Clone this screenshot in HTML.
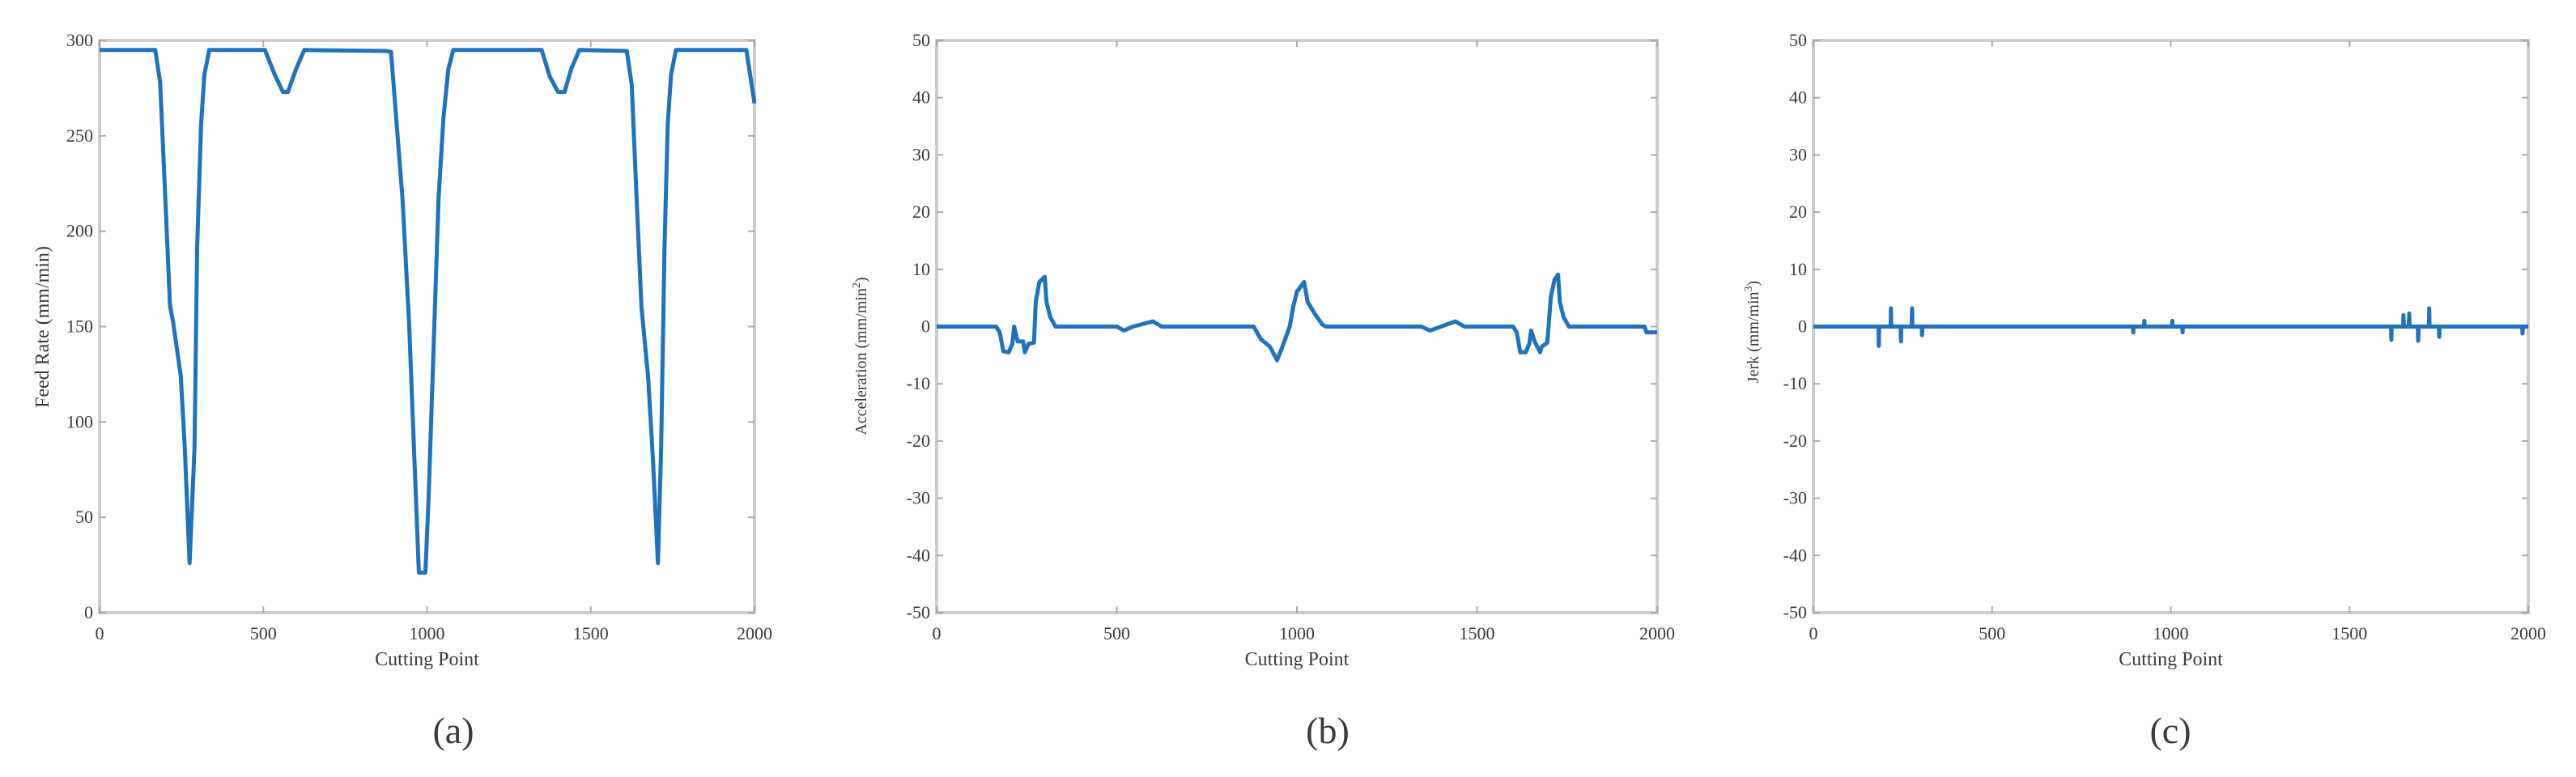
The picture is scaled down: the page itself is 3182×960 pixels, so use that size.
<!DOCTYPE html>
<html><head><meta charset="utf-8"><style>
html,body{margin:0;padding:0;background:#fff;}
svg{display:block;}
text{font-family:"Liberation Serif",serif;fill:#3a3a3a;}
</style></head><body>
<svg id="fig" width="3182" height="960" viewBox="0 0 3182 960"></svg>
<script>
// ---- Panel (a): feed rate ----
const feedX = [0,170,185,200,215,225,248,260,275,290,298,310,320,335,505,535,560,575,600,625,875,890,905,925,945,960,975,995,1005,1020,1035,1050,1065,1080,1350,1375,1400,1420,1440,1465,1610,1625,1640,1655,1675,1690,1705,1715,1725,1735,1745,1760,1975,2000];
const feedY = [295,295,278,220,161,152,124,87,26,87,191,256,282,295,295,282,273,273,285,295,294.5,294,261,217,152,87,21,21,61,139,217,259,285,295,295,281,273,273,285,295,294.5,277,217,160,124,80,26,87,191,256,282,295,295,267];
const feedTicksY = [0,50,100,150,200,250,300];
// ---- Panel (b): acceleration ----
const accX = [0,165,175,185,200,210,215,225,240,245,255,270,275,285,300,305,315,330,500,520,545,600,625,880,900,925,945,960,980,990,1000,1020,1030,1050,1070,1080,1345,1370,1400,1440,1465,1600,1610,1620,1635,1645,1650,1660,1675,1680,1695,1705,1715,1725,1730,1740,1755,1965,1970,2000];
const accY = [0,0,-1,-4.3,-4.5,-3,0,-2.6,-2.6,-4.5,-3,-2.8,4.3,7.8,8.7,4.3,1.7,0,0,-0.7,0,0.9,0,0,-2.2,-3.5,-5.9,-3.5,0,3.5,6.1,7.8,4.3,2.2,0.4,0,0,-0.7,0,0.9,0,0,-1,-4.5,-4.5,-3,-0.7,-2.6,-4.5,-3.5,-2.8,5.2,8.2,9.1,4.3,1.7,0,0,-1,-1];
// ---- Panel (c): jerk spikes ----
const jerkSpikeX = [183,217,245,276,304,895,926,1004,1033,1617,1651,1667,1692,1723,1751,1984];
const jerkSpikeV = [-3.4,3.2,-2.6,3.2,-1.5,-1,1,1,-1,-2.3,2,2.3,-2.5,3.2,-1.8,-1.2];
const pmTicksY = [-50,-40,-30,-20,-10,0,10,20,30,40,50];
const xTicks = [0,500,1000,1500,2000];

const NS = "http://www.w3.org/2000/svg";
const svg = document.getElementById('fig');
function mk(tag, attrs, parent){const e=document.createElementNS(NS,tag);for(const k in attrs)e.setAttribute(k,attrs[k]);(parent||svg).appendChild(e);return e;}

function panel(cfg){
  const g = mk('g',{});
  
  
  const L=cfg.l,R=cfg.r,T=50,B=757;
  const sx = v => L + (v-0)/2000*(R-L);
  const sy = v => B - (v-cfg.ymin)/(cfg.ymax-cfg.ymin)*(B-T);
  // frame
  const fr = mk('rect',{x:L,y:T,width:R-L,height:B-T,fill:'none',stroke:'#cccccc','stroke-width':4},g);
  
  
  // x ticks
  xTicks.forEach(t=>{
    mk('line',{x1:sx(t),x2:sx(t),y1:B,y2:B-8,stroke:'#aaa','stroke-width':2},g);
    mk('line',{x1:sx(t),x2:sx(t),y1:T,y2:T+8,stroke:'#aaa','stroke-width':2},g);
    const tx = mk('text',{x:sx(t),y:790,'font-size':22,'text-anchor':'middle'},g);
    tx.textContent=t;
    
    
  });
  cfg.yticks.forEach(t=>{
    mk('line',{x1:L,x2:L+8,y1:sy(t),y2:sy(t),stroke:'#aaa','stroke-width':2},g);
    mk('line',{x1:R,x2:R-8,y1:sy(t),y2:sy(t),stroke:'#aaa','stroke-width':2},g);
    const ty = mk('text',{x:L-8,y:sy(t)+7,'font-size':22,'text-anchor':'end'},g);
    ty.textContent=t;
    
    
  });
  // series
  const d = cfg.xs.map((x,i)=>(i?'L':'M')+sx(x).toFixed(1)+','+sy(cfg.ys[i]).toFixed(1)).join('');
  const p = mk('path',{d:d,fill:'none',stroke:'#1f72bd','stroke-width':5,'stroke-linejoin':'round'},g);
  
  
  // labels
  const xl = mk('text',{x:(L+R)/2,y:822,'font-size':24,'text-anchor':'middle'},g);
  xl.textContent='Cutting Point';
  
  
  const yl = mk('text',{x:0,y:0,'font-size':cfg.ylfs,'text-anchor':'middle',transform:'translate('+cfg.ylx+','+cfg.yly+') rotate(-90)'},g);
  yl.innerHTML=cfg.ylabel;
  
  
  const cap = mk('text',{x:cfg.capx,y:918,'font-size':46,'text-anchor':'middle',fill:'#111'},g);
  cap.textContent=cfg.cap;
  
  
}

// build jerk polyline from spike arrays
const jerkX=[0], jerkY=[0];
jerkSpikeX.forEach((x,i)=>{jerkX.push(x-1,x,x+1);jerkY.push(0,jerkSpikeV[i],0);});
jerkX.push(2000); jerkY.push(0);

panel({name:'feed-rate-chart',series:'feed-rate-line',l:123,r:932,ymin:0,ymax:300,yticks:feedTicksY,xs:feedX,ys:feedY,ylabel:'Feed Rate (mm/min)',ylx:60,yly:404,ylfs:24,capx:560,cap:'(a)'});
panel({name:'acceleration-chart',series:'acceleration-line',l:1157,r:2047,ymin:-50,ymax:50,yticks:pmTicksY,xs:accX,ys:accY,ylabel:'Acceleration (mm/min<tspan font-size="14" dy="-8">2</tspan><tspan dy="8">)</tspan>',ylx:1070,yly:440,ylfs:20,capx:1640,cap:'(b)'});
panel({name:'jerk-chart',series:'jerk-line',l:2240,r:3123,ymin:-50,ymax:50,yticks:pmTicksY,xs:jerkX,ys:jerkY,ylabel:'Jerk (mm/min<tspan font-size="14" dy="-8">3</tspan><tspan dy="8">)</tspan>',ylx:2172,yly:410,ylfs:20,capx:2681,cap:'(c)'});
</script>
</body></html>
